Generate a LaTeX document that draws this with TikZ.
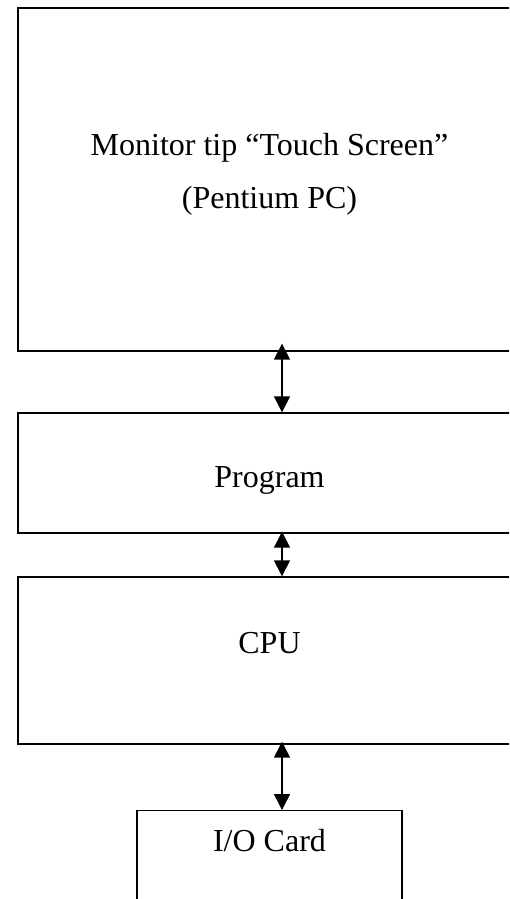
\documentclass[tikz,border=0pt]{standalone}
\usepackage{fontspec}
\setmainfont{Liberation Serif}
\usetikzlibrary{arrows.meta}

\tikzset{
unit/.style={draw, line width=0.7pt, inner sep=0pt, minimum width=252pt},
lbl/.style={font=\fontsize{16}{26.5}\selectfont, anchor=base, inner sep=0pt, align=center},
link/.style={{Triangle[width=8pt,length=8pt]}-{Triangle[width=8pt,length=8pt]}, line width=0.75pt},
}

\begin{document}
\begin{tikzpicture}[x=0.5pt,y=-0.5pt]
\useasboundingbox (0,0) rectangle (509,899);
\clip (0,0) rectangle (509,899);

%the blocks, top to bottom:
\node[unit, minimum height=171.5pt] (monitor) at (270,179.5) {};
\node[unit, minimum height=60pt] (program) at (270,473) {};
\node[unit, minimum height=83.5pt] (cpu) at (270,660.5) {};
\node[unit, minimum width=132.5pt, minimum height=60pt, anchor=north] (io) at (269.5,810) {};

%their labels (base is the last line):
\node[lbl] (monitortxt) at (269.5,208) {Monitor tip “Touch Screen”\\(Pentium PC)};
\node[lbl] (programtxt) at (269.5,487) {Program};
\node[lbl] (cputxt) at (269.5,653) {CPU};
\node[lbl] (iotxt) at (269.5,851) {I/O Card};

%the links:
\coordinate (ax) at (282,0);
\draw[link] ([yshift=4pt]monitor.south -| ax) -- (program.north -| ax);
\draw[link] ([yshift=1pt]program.south -| ax) -- (cpu.north -| ax);
\draw[link] ([yshift=1.5pt]cpu.south -| ax) -- (io.north -| ax);
\end{tikzpicture}
\end{document}
